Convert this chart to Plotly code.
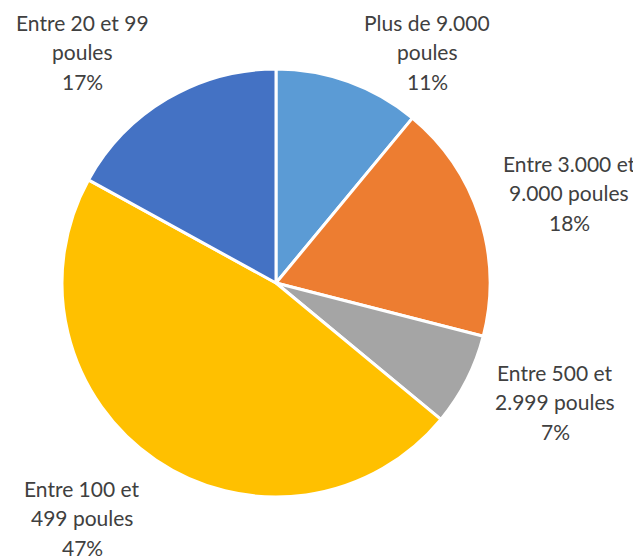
import plotly.graph_objects as go

# Data
labels = ["Plus de 9.000 poules", "Entre 3.000 et 9.000 poules", "Entre 500 et 2.999 poules",
          "Entre 100 et 499 poules", "Entre 20 et 99 poules"]
label_lines = [["Plus de 9.000", "poules"], ["Entre 3.000 et", "9.000 poules"],
               ["Entre 500 et", "2.999 poules"], ["Entre 100 et", "499 poules"],
               ["Entre 20 et 99", "poules"]]
values = [11, 18, 7, 47, 17]
colors = ["#5B9BD5", "#ED7D31", "#A5A5A5", "#FFC000", "#4472C4"]

# Layout (page has an 8px body margin, so the figure is offset by it)
OFF = 8
W, H = 641 - OFF, 556 - OFF
label_pos = [(427, 22), (569, 163), (555, 372), (82, 488), (82, 22)]
line_gap = 29.5


def px_x(x):
    return (x - OFF) / W


def px_y(y):
    return 1 - (y - OFF) / H


fig = go.Figure(go.Pie(
    labels=labels, values=values, sort=False, direction="clockwise", rotation=0,
    marker=dict(colors=colors, line=dict(color="white", width=3)),
    textinfo="none", hoverinfo="label+percent",
    domain=dict(x=[px_x(62), px_x(490)], y=[px_y(497), px_y(69)]),
    showlegend=False,
))

annotations = []
total = sum(values)
for lines, v, (px, py) in zip(label_lines, values, label_pos):
    all_lines = lines + [f"{round(100 * v / total)}%"]
    for i, t in enumerate(all_lines):
        annotations.append(dict(
            text=t, x=px_x(px), y=px_y(py + i * line_gap), xref="paper", yref="paper",
            xanchor="center", yanchor="middle", showarrow=False,
            font=dict(family="Lato, Open Sans, sans-serif", size=21, color="#404040"),
        ))

fig.update_layout(
    width=W, height=H, margin=dict(l=0, r=0, t=0, b=0),
    paper_bgcolor="white", plot_bgcolor="white",
    annotations=annotations,
)
fig.write_html("out.html")
